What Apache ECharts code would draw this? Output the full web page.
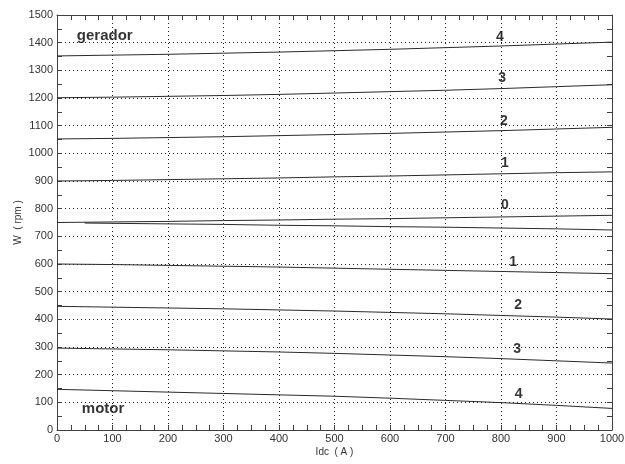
<!DOCTYPE html>
<html>
<head>
<meta charset="utf-8">
<script src="https://cdn.jsdelivr.net/npm/echarts@6/dist/echarts.min.js"></script>
<style>
html,body{margin:0;padding:0;background:#fff;}
#chart{width:625px;height:464px;}
</style>
</head>
<body>
<div id="chart"></div>
<script>
var xs = [0, 100, 200, 300, 400, 500, 600, 700, 800, 900, 1000];
var xsMotor0 = [50, 100, 200, 300, 400, 500, 600, 700, 800, 900, 1000];

var gen4 = [1352, 1355, 1358, 1362, 1366, 1371, 1376, 1382, 1388, 1395, 1402];
var gen3 = [1201, 1203, 1206, 1209, 1213, 1218, 1223, 1228, 1234, 1241, 1248];
var gen2 = [1052, 1054, 1057, 1060, 1064, 1068, 1072, 1077, 1082, 1088, 1094];
var gen1 = [900, 902, 905, 908, 911, 915, 918, 922, 926, 930, 933];
var gen0 = [750, 752, 754, 757, 759, 762, 764, 767, 770, 773, 776];
var mot0 = [748, 747, 745, 743, 740, 738, 735, 733, 730, 727, 723];
var mot1 = [600, 598, 595, 592, 589, 585, 581, 577, 573, 569, 565];
var mot2 = [447, 444, 441, 438, 434, 430, 425, 420, 414, 408, 401];
var mot3 = [296, 293, 290, 286, 282, 277, 271, 265, 258, 250, 242];
var mot4 = [147, 142, 137, 132, 127, 122, 115, 107, 99, 89, 78];

var curveLabels = ['4', '3', '2', '1', '0', '1', '2', '3', '4'];
var curveLabelX = [798, 802, 805, 807, 807, 822, 831, 829, 832];
var curveLabelY = [1420, 1272, 1117, 965, 813, 607, 452, 293, 130];
var regionLabels = ['gerador', 'motor'];
var regionLabelX = [86, 83];
var regionLabelY = [1424, 76];

var xTicks = [0, 100, 200, 300, 400, 500, 600, 700, 800, 900, 1000];
var yTicks = [0, 100, 200, 300, 400, 500, 600, 700, 800, 900, 1000, 1100, 1200, 1300, 1400, 1500];

function pairs(x, y) { return x.map(function (v, i) { return [v, y[i]]; }); }

var curves = [
  pairs(xs, gen4), pairs(xs, gen3), pairs(xs, gen2), pairs(xs, gen1), pairs(xs, gen0),
  pairs(xsMotor0, mot0), pairs(xs, mot1), pairs(xs, mot2), pairs(xs, mot3), pairs(xs, mot4)
];

var axisCol = '#404040';
var fontFam = 'Liberation Sans, Arial, sans-serif';
function plain(v) { return String(v); }

function mkX(pos, show) {
  return {
    type: 'value', position: pos, min: xTicks[0], max: xTicks[xTicks.length - 1], interval: 100,
    name: show ? 'Idc  ( A )' : '', nameLocation: 'middle', nameGap: 17, nameMoveOverlap: false,
    nameTextStyle: { color: '#333', fontSize: 10, fontFamily: fontFam },
    axisLine: { show: true, onZero: false, lineStyle: { color: axisCol, width: 1 } },
    axisTick: { show: true, inside: true, length: 5, lineStyle: { color: axisCol } },
    minorTick: { show: true, splitNumber: 4, length: 5, lineStyle: { color: axisCol } },
    axisLabel: { show: show, color: '#333', fontSize: 11, fontFamily: fontFam, margin: 3, formatter: plain },
    splitLine: { show: show, lineStyle: { color: '#222', type: [1, 3], width: 1 } }
  };
}
function mkY(pos, show) {
  return {
    type: 'value', position: pos, min: yTicks[0], max: yTicks[yTicks.length - 1], interval: 100,
    name: show ? 'W  ( rpm )' : '', nameLocation: 'middle', nameGap: 34, nameRotate: 90, nameMoveOverlap: false,
    nameTextStyle: { color: '#333', fontSize: 10, fontFamily: fontFam },
    axisLine: { show: true, onZero: false, lineStyle: { color: axisCol, width: 1 } },
    axisTick: { show: true, inside: true, length: 5, lineStyle: { color: axisCol } },
    minorTick: { show: true, splitNumber: 2, length: 5, lineStyle: { color: axisCol } },
    axisLabel: { show: show, color: '#333', fontSize: 11, fontFamily: fontFam, margin: 4, formatter: plain },
    splitLine: { show: show, lineStyle: { color: '#222', type: [1, 3], width: 1 } }
  };
}

var series = curves.map(function (d) {
  return {
    type: 'line', data: d, xAxisIndex: 0, yAxisIndex: 0, symbol: 'none',
    lineStyle: { color: '#2a2a2a', width: 1 }, silent: true, animation: false
  };
});

series.push({
  type: 'scatter', xAxisIndex: 0, yAxisIndex: 0, symbolSize: 0, silent: true, animation: false,
  data: curveLabels.map(function (t, i) { return { value: [curveLabelX[i], curveLabelY[i]], name: t }; }),
  label: { show: true, position: 'inside', formatter: '{b}', color: '#000', fontSize: 14, fontWeight: 'bold', fontFamily: fontFam }
});
series.push({
  type: 'scatter', xAxisIndex: 0, yAxisIndex: 0, symbolSize: 0, silent: true, animation: false,
  data: regionLabels.map(function (t, i) { return { value: [regionLabelX[i], regionLabelY[i]], name: t }; }),
  label: { show: true, position: 'inside', formatter: '{b}', color: '#000', fontSize: 15, fontWeight: 'bold', fontFamily: fontFam }
});

var chart = echarts.init(document.getElementById('chart'), null, { renderer: 'canvas' });
chart.setOption({
  backgroundColor: '#fff',
  animation: false,
  grid: { left: 57, right: 13, top: 15, bottom: 34, containLabel: false, outerBoundsMode: 'none' },
  xAxis: [mkX('bottom', true), mkX('top', false)],
  yAxis: [mkY('left', true), mkY('right', false)],
  series: series
});
</script>
</body>
</html>
